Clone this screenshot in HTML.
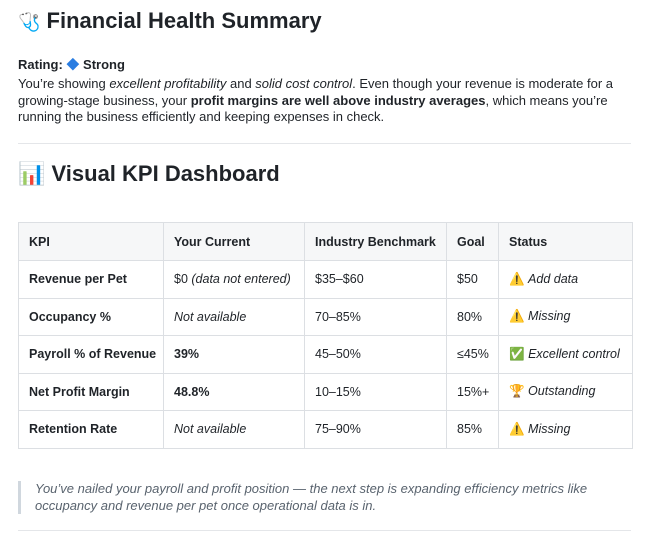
<!DOCTYPE html>
<html><head><meta charset="utf-8"><style>
body{margin:0;background:#fff;font-family:"Liberation Sans","Noto Sans CJK SC",sans-serif;color:#1f2328;width:670px;height:537px;overflow:hidden;position:relative}
.a{position:absolute;white-space:nowrap}
h1{position:absolute;margin:0;left:18px;top:8px;font-size:22px;font-weight:bold}
h2{position:absolute;margin:0;left:18px;top:161px;font-size:22px;font-weight:bold}
p{margin:0;font-size:13px}
.hr{position:absolute;left:18px;width:613px;height:1px;background:#e4e6e9}
table{position:absolute;left:18px;top:222px;border-collapse:collapse;font-size:12.5px;table-layout:fixed;width:614px}
td,th{border:1px solid #dcdfe3;padding:0 10px;text-align:left;height:36.5px;white-space:nowrap;overflow:hidden}
th{background:#f6f7f8;height:37px}
td:first-child{font-weight:bold}
</style></head><body>
<h1><span style="font-size:18px">🩺</span> Financial Health Summary</h1>
<p class="a" style="left:18px;top:54px;font-weight:bold">Rating: <span style="color:#2a7de1">◆</span> Strong</p>
<p class="a" style="left:18px;top:76px;line-height:16.5px;white-space:normal;width:620px">You’re showing <i>excellent profitability</i> and <i>solid cost control</i>. Even though your revenue is moderate for a growing-stage business, your <b>profit margins are well above industry averages</b>, which means you’re running the business efficiently and keeping expenses in check.</p>
<div class="hr" style="top:143px"></div>
<h2>📊 Visual KPI Dashboard</h2>
<table>
<colgroup><col style="width:145px"><col style="width:141px"><col style="width:142px"><col style="width:52px"><col style="width:134px"></colgroup>
<tr><th>KPI</th><th>Your Current</th><th>Industry Benchmark</th><th>Goal</th><th>Status</th></tr>
<tr><td>Revenue per Pet</td><td>$0 <i>(data not entered)</i></td><td>$35–$60</td><td>$50</td><td>⚠️ <i>Add data</i></td></tr>
<tr><td>Occupancy %</td><td><i>Not available</i></td><td>70–85%</td><td>80%</td><td>⚠️ <i>Missing</i></td></tr>
<tr><td>Payroll % of Revenue</td><td><b>39%</b></td><td>45–50%</td><td>≤45%</td><td><span style="color:#2da44e">✅</span> <i>Excellent control</i></td></tr>
<tr><td>Net Profit Margin</td><td><b>48.8%</b></td><td>10–15%</td><td>15%+</td><td>🏆 <i>Outstanding</i></td></tr>
<tr><td>Retention Rate</td><td><i>Not available</i></td><td>75–90%</td><td>85%</td><td>⚠️ <i>Missing</i></td></tr>
</table>
<div class="a" style="left:18px;top:481px;width:3px;height:33px;background:#d0d7de"></div>
<p class="a" style="left:35px;top:481px;line-height:16.5px;color:#59636e;font-style:italic;white-space:normal;width:600px">You’ve nailed your payroll and profit position — the next step is expanding efficiency metrics like occupancy and revenue per pet once operational data is in.</p>
<div class="hr" style="top:530px"></div>
</body></html>
